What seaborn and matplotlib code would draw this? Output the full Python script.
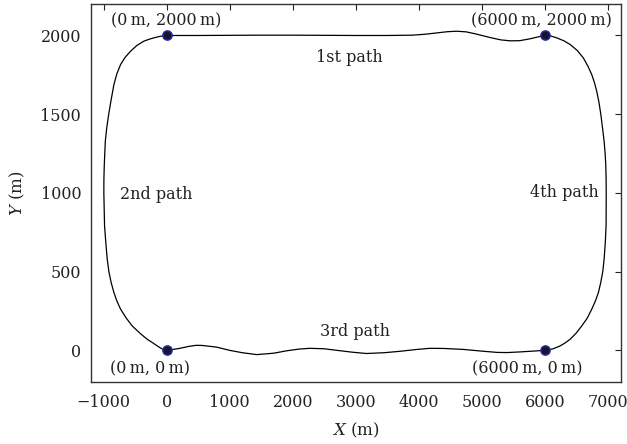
import matplotlib
matplotlib.use("Agg")
import matplotlib.pyplot as plt
import seaborn as sns
import pandas as pd

# Trajectory (closed loop, in travel order)
top_x = [0, 500, 1000, 1500, 2000, 2500, 3000, 3500, 3900, 4100, 4300, 4450, 4600, 4750, 4900,
         5000, 5150, 5300, 5450, 5600, 5750, 5900, 6000]
top_y = [2000, 2000, 2001, 2002, 2002, 2001, 2000, 2000, 2002, 2008, 2017, 2024, 2027, 2023, 2010,
         2000, 1985, 1972, 1966, 1967, 1978, 1992, 2000]
right_x = [6090, 6185, 6300, 6397, 6510, 6608, 6680, 6741, 6785, 6820, 6855, 6884, 6912, 6937,
           6953, 6963, 6968, 6970, 6968, 6956, 6937, 6915, 6885, 6847, 6800, 6741, 6670,
           6582, 6490, 6397, 6310, 6238, 6130, 6026, 6000]
right_y = [1997, 1985, 1966, 1943, 1905, 1857, 1805, 1751, 1698, 1645, 1575, 1500, 1410, 1326,
           1250, 1177, 1090, 1000, 794, 690, 581, 500, 435, 368, 315, 262, 205,
           155, 108, 70, 45, 28, 10, 1, 0]
bottom_x = [5800, 5600, 5400, 5240, 5000, 4700, 4400, 4175, 3950, 3700, 3450, 3170, 2950, 2700,
            2500, 2270, 2100, 1900, 1700, 1430, 1200, 1000, 800, 570, 471, 350, 200, 0]
bottom_y = [-5, -10, -14, -13, -5, 6, 12, 13, 5, -6, -15, -20, -12, 0,
            10, 13, 8, -3, -18, -27, -15, 0, 20, 31, 32, 25, 12, 0]
left_x = [-60, -148, -220, -307, -420, -545, -640, -730, -790, -836, -880, -915, -942, -965,
          -984, -995, -994, -988, -972, -950, -918, -880, -836, -790, -730, -660, -571,
          -470, -360, -270, -201, -100, 0]
left_y = [6, 28, 48, 70, 108, 155, 205, 262, 315, 368, 432, 500, 581, 690,
          794, 1000, 1090, 1177, 1326, 1410, 1500, 1590, 1687, 1755, 1815, 1860, 1900,
          1937, 1964, 1977, 1985, 1995, 2000]

corner_x = [0, 6000, 0, 6000]
corner_y = [2000, 2000, 0, 0]
corner_labels = ["(0\u2009m, 2000\u2009m)", "(6000\u2009m, 2000\u2009m)", "(0\u2009m, 0\u2009m)", "(6000\u2009m, 0\u2009m)"]
corner_label_x = [0, 5940, -270, 5714]
corner_label_y = [2095, 2095, -117, -117]

path_names = ["1st path", "2nd path", "3rd path", "4th path"]
path_name_x = [2905, -160, 2984, 6300]
path_name_y = [1860, 990, 120, 1000]

sns.set_theme(style="white")
plt.rcParams["font.family"] = ["DejaVu Serif"]
plt.rcParams["mathtext.fontset"] = "dejavuserif"

fig = plt.figure(figsize=(6.27, 4.44), dpi=100)
ax = fig.add_axes([0.145, 0.140, 0.845, 0.851])

xs = top_x + right_x + bottom_x + left_x
ys = top_y + right_y + bottom_y + left_y
df = pd.DataFrame({"x": xs, "y": ys})
sns.lineplot(data=df, x="x", y="y", sort=False, estimator=None, color="black", lw=0.9, ax=ax)

pts = pd.DataFrame({"x": corner_x, "y": corner_y})
sns.scatterplot(data=pts, x="x", y="y", s=45, color="#151530", edgecolor="#2b2ba8", linewidth=1.0, zorder=5, ax=ax)

for t, x, y in zip(corner_labels, corner_label_x, corner_label_y):
    ax.text(x, y, t, ha="center", va="center", fontsize=11.5, color="#222222")
for t, x, y in zip(path_names, path_name_x, path_name_y):
    ax.text(x, y, t, ha="center", va="center", fontsize=11.5, color="#222222")

ax.set_xlim(-1200, 7200)
ax.set_ylim(-200, 2200)
ax.set_xticks([-1000, 0, 1000, 2000, 3000, 4000, 5000, 6000, 7000])
ax.set_yticks([0, 500, 1000, 1500, 2000])
ax.set_xlabel("$X$ (m)", fontsize=12, color="#222222", labelpad=7)
ax.set_ylabel("$Y$ (m)", fontsize=12, color="#222222", labelpad=10)
ax.tick_params(axis="both", direction="in", length=4, width=0.8, top=True, right=True,
               labelsize=11.5, colors="#222222", labeltop=False, labelright=False)
ax.tick_params(axis="x", pad=9)
ax.tick_params(axis="y", pad=7)
for s in ax.spines.values():
    s.set_color("#333333")
    s.set_linewidth(1.0)

fig.savefig("out.png", dpi=100)
